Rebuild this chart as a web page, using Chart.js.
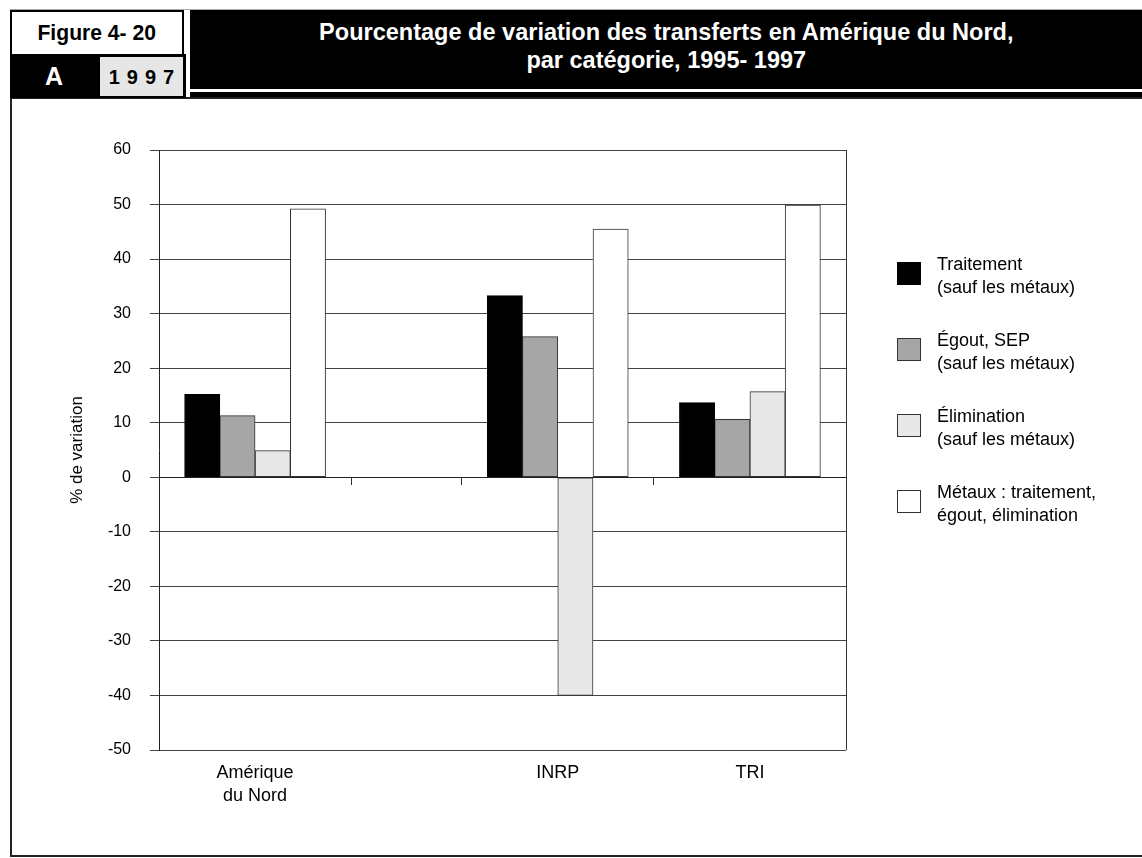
<!DOCTYPE html>
<html><head><meta charset="utf-8">
<script src="https://cdn.jsdelivr.net/npm/chart.js@4.4.1/dist/chart.umd.min.js"></script>
<style>
html,body{margin:0;padding:0;background:#fff;}
body{width:1142px;height:858px;position:relative;overflow:hidden;font-family:"Liberation Sans",Arial,sans-serif;}
#topline{position:absolute;left:10px;top:9px;width:1132px;height:1px;background:#aaa;}
#figbox{position:absolute;left:10px;top:10px;width:174px;height:44px;border:2px solid #000;border-bottom:none;box-sizing:border-box;background:#fff;text-align:center;}
#figbox span{display:inline-block;font-weight:bold;font-size:22px;line-height:42px;transform:scaleX(0.96);transform-origin:center;white-space:nowrap;}
#arow{position:absolute;left:10px;top:54px;width:176px;height:44px;background:#000;}
#aletter{position:absolute;left:0;top:0;width:88px;height:44px;color:#fff;font-weight:bold;font-size:25px;line-height:44px;text-align:center;}
#year{position:absolute;left:90px;top:3px;width:83px;height:39px;background:#e6e6e6;font-weight:bold;font-size:20px;letter-spacing:7px;line-height:40px;text-align:center;text-indent:7px;}
#titlebox{position:absolute;left:190px;top:10px;width:952px;height:79px;background:#000;color:#fff;text-align:center;padding-top:8px;box-sizing:border-box;}
#titlebox span{display:inline-block;font-weight:bold;font-size:24px;line-height:28px;transform:scaleX(0.98);transform-origin:center;white-space:nowrap;}
#titleline{position:absolute;left:190px;top:92px;width:952px;height:5px;background:#000;}
#frame{position:absolute;left:10px;top:97px;width:1140px;height:760px;border:2px solid #222;box-sizing:border-box;}
#chartwrap{position:absolute;left:0;top:0;width:1142px;height:858px;}
#legend{position:absolute;left:897px;top:256px;}
.item{position:absolute;left:0;width:240px;height:60px;}
.box{position:absolute;left:0;top:6px;width:24px;height:23px;box-sizing:border-box;border:1px solid #333;}
.txt{position:absolute;left:40px;top:-3px;font-size:18px;line-height:23px;color:#000;white-space:nowrap;}
</style>
</head><body>
<div id="topline"></div>
<div id="frame"></div>
<div id="figbox"><span>Figure 4- 20</span></div>
<div id="arow"><div id="aletter">A</div><div id="year">1997</div></div>
<div id="titlebox"><span>Pourcentage de variation des transferts en Amérique du Nord,<br>par catégorie, 1995- 1997</span></div>
<div id="titleline"></div>
<div id="chartwrap"><canvas id="c" width="1142" height="858"></canvas></div>
<div id="legend"></div>
<script>
// ---- data ----
const categories = ['Amérique du Nord', 'INRP', 'TRI'];
const categoryLabelLines = [['Amérique', 'du Nord'], ['INRP'], ['TRI']];
const seriesNames = [
  ['Traitement', '(sauf les métaux)'],
  ['Égout, SEP', '(sauf les métaux)'],
  ['Élimination', '(sauf les métaux)'],
  ['Métaux : traitement,', 'égout, élimination']
];
const traitement = [15.2, 33.3, 13.7];
const egout = [11.3, 25.8, 10.6];
const elimination = [4.9, -40.0, 15.7];
const metaux = [49.2, 45.5, 49.9];
const yTicks = { min: -50, max: 60, step: 10 };

// ---- layout of the category axis (an empty spacer after the first group) ----
const spacerAfterFirst = 0.575;
const slotStarts = [];
let acc = 0;
categories.forEach((c, i) => { slotStarts.push(acc); acc += 1 + (i === 0 ? spacerAfterFirst : 0); });
const xMax = acc;
const centers = slotStarts.map(s => s + 0.5);
const boundaries = [0, 1, 1 + spacerAfterFirst].concat(slotStarts.slice(1).map(s => s + 1));

const colors = ['#000000', '#a6a6a6', '#e8e8e8', '#ffffff'];
const borders = ['#000000', '#333333', '#333333', '#333333'];
const values = [traitement, egout, elimination, metaux];

const datasets = values.map((vals, k) => ({
  label: seriesNames[k].join(' '),
  data: vals.map((v, i) => ({ x: centers[i], y: v })),
  backgroundColor: colors[k],
  borderColor: borders[k],
  borderWidth: 1,
  borderSkipped: false,
  barThickness: 35.25
}));

// HTML legend from series
const lg = document.getElementById('legend');
seriesNames.forEach((n, k) => {
  const it = document.createElement('div');
  it.className = 'item';
  it.style.top = (k * 76) + 'px';
  it.innerHTML = '<div class="box" style="background:' + colors[k] + ';border-color:' + borders[k] + '"></div><div class="txt">' + n.join('<br>') + '</div>';
  lg.appendChild(it);
});

const FONT = '"Liberation Sans", Arial, sans-serif';

const plotFrame = {
  id: 'plotFrame',
  afterDraw(chart) {
    const { ctx, chartArea: a } = chart;
    ctx.save();
    ctx.strokeStyle = '#333';
    ctx.lineWidth = 1;
    ctx.beginPath();
    ctx.moveTo(Math.round(a.right) + 0.5, a.top);
    ctx.lineTo(Math.round(a.right) + 0.5, a.bottom);
    ctx.stroke();
    ctx.restore();
  }
};

new Chart(document.getElementById('c'), {
  type: 'bar',
  data: { datasets },
  plugins: [plotFrame],
  options: {
    responsive: false,
    devicePixelRatio: 1,
    animation: false,
    layout: { padding: { left: 60, top: 150, right: 296, bottom: 0 } },
    plugins: { legend: { display: false }, tooltip: { enabled: false } },
    scales: {
      y: {
        type: 'linear',
        min: yTicks.min, max: yTicks.max,
        afterFit(s) { s.width = 99; },
        ticks: { stepSize: yTicks.step, color: '#000', padding: 19, font: { family: FONT, size: 16 } },
        grid: { color: '#444', lineWidth: 1, tickLength: 9 },
        border: { color: '#222', width: 1 },
        title: { display: true, text: '% de variation', color: '#000', padding: { top: 7, bottom: 0 }, font: { family: FONT, size: 17 } }
      },
      x: {
        type: 'linear',
        position: { y: 0 },
        offset: false,
        min: 0, max: xMax,
        afterBuildTicks(s) { s.ticks = boundaries.map(v => ({ value: v })); },
        ticks: { display: false },
        grid: { offset: false, drawOnChartArea: false, drawTicks: true, tickLength: 7, color: '#333' },
        border: { color: '#222', width: 1 }
      },
      xl: {
        type: 'linear',
        position: 'bottom',
        offset: false,
        min: 0, max: xMax,
        afterFit(s) { s.height = 108; },
        afterBuildTicks(s) { s.ticks = centers.map(v => ({ value: v })); },
        ticks: {
          autoSkip: false, maxRotation: 0, minRotation: 0, padding: 3, color: '#000',
          font: { family: FONT, size: 18, lineHeight: 1.3 },
          callback: (v, i) => categoryLabelLines[i]
        },
        grid: { display: false, offset: false },
        border: { display: false }
      }
    }
  }
});
</script>
</body></html>
